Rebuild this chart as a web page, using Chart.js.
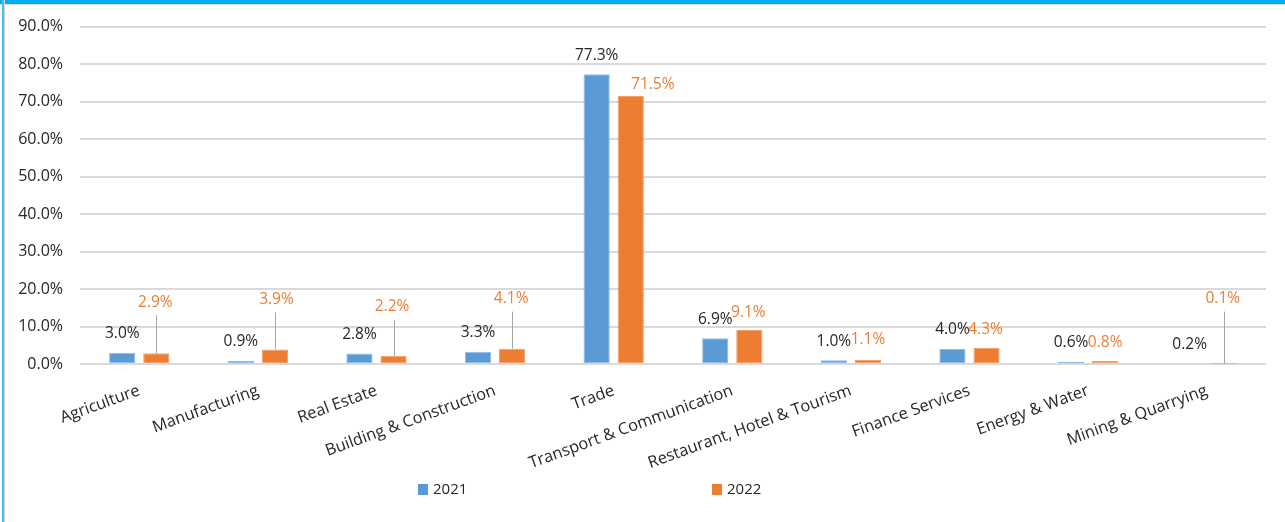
<!DOCTYPE html>
<html>
<head>
<meta charset="utf-8">
<script src="https://cdn.jsdelivr.net/npm/chart.js@4.4.1/dist/chart.umd.min.js"></script>
<style>
  html, body { margin: 0; padding: 0; background: #fff; }
  #wrap { position: relative; width: 1285px; height: 522px; overflow: hidden; }
  #wrap canvas { position: absolute; left: 0; top: 0; }
  .topbar { position: absolute; left: 0; top: 0; width: 1285px; height: 4px; background: #00b0f0; border-bottom: 1px solid #d9d9d9; }
  .leftbar { position: absolute; left: 2px; top: 0; width: 2px; height: 522px; background: #3fc1f2; border-right: 1px solid #d9d9d9; }
</style>
</head>
<body>
<div id="wrap">
  <canvas id="chart" width="1285" height="522"></canvas>
  <div class="topbar"></div>
  <div class="leftbar"></div>
</div>
<script>
const sectors = [
  "Agriculture", "Manufacturing", "Real Estate", "Building & Construction", "Trade",
  "Transport & Communication", "Restaurant, Hotel & Tourism", "Finance Services",
  "Energy & Water", "Mining & Quarrying"
];
const share2021 = [3.0, 0.9, 2.8, 3.3, 77.3, 6.9, 1.0, 4.0, 0.6, 0.2];
const share2022 = [2.9, 3.9, 2.2, 4.1, 71.5, 9.1, 1.1, 4.3, 0.8, 0.1];
const yMin = 0, yMax = 90, yStep = 10;

// label placement (pixels from bar top); leader lines for moved 2022 labels
const offsets2022 = [[-1, -51], [1.5, -50], [-1.5, -49], [-1, -50], [22, -11],
                     [-1, -17], [0, -20], [-1, -18], [0, -18.5], [-1, -65]];
const leaders2022 = [true, true, true, true, false, false, false, false, false, true];

const FONT = '"Open Sans", "Liberation Sans", sans-serif';
const BLUE = "#5b9bd5", ORANGE = "#ed7d31", TEXT = "#262626";

const barLabels = {
  id: "barLabels",
  afterDatasetsDraw(chart) {
    const ctx = chart.ctx;
    ctx.save();
    ctx.font = "15.5px " + FONT;
    ctx.textAlign = "center";
    ctx.textBaseline = "middle";
    chart.data.datasets.forEach((ds, di) => {
      chart.getDatasetMeta(di).data.forEach((bar, i) => {
        const [dx, dy] = ds.labelOffsets ? ds.labelOffsets[i] : [0, -19];
        const lx = bar.x + dx, ly = bar.y + dy;
        if (ds.leaders && ds.leaders[i]) {
          const x = Math.round(bar.x) + 0.5;
          ctx.strokeStyle = "#a6a6a6";
          ctx.lineWidth = 1;
          ctx.beginPath();
          ctx.moveTo(x, ly + 13);
          ctx.lineTo(x, bar.y);
          ctx.stroke();
        }
        ctx.fillStyle = ds.labelColor;
        ctx.fillText(ds.data[i].toFixed(1) + "%", lx, ly);
      });
    });
    ctx.restore();
  }
};

// legend drawn by hand: Excel spreads the two entries far apart
const legendX = [418, 712];
const bottomLegend = {
  id: "bottomLegend",
  afterDraw(chart) {
    const ctx = chart.ctx;
    ctx.save();
    ctx.font = "15px " + FONT;
    ctx.textBaseline = "middle";
    ctx.textAlign = "left";
    chart.data.datasets.forEach((ds, i) => {
      ctx.fillStyle = ds.backgroundColor;
      ctx.fillRect(legendX[i], 484, 10, 11);
      ctx.fillStyle = TEXT;
      ctx.fillText(ds.label, legendX[i] + 15, 490);
    });
    ctx.restore();
  }
};

new Chart(document.getElementById("chart").getContext("2d"), {
  type: "bar",
  data: {
    labels: sectors,
    datasets: [
      { label: "2021", data: share2021, backgroundColor: BLUE, borderColor: "#8dbbe6",
        borderWidth: 1, borderSkipped: false, labelColor: TEXT },
      { label: "2022", data: share2022, backgroundColor: ORANGE, borderColor: "#f3a06a",
        borderWidth: 1, borderSkipped: false, labelColor: ORANGE,
        labelOffsets: offsets2022, leaders: leaders2022 },
    ],
  },
  options: {
    responsive: false,
    animation: false,
    layout: { padding: { top: 26, right: 19, bottom: 0, left: 0 } },
    datasets: { bar: { barPercentage: 0.77, categoryPercentage: 0.575 } },
    plugins: {
      legend: { display: false },
      tooltip: { enabled: false },
    },
    scales: {
      x: {
        grid: { display: false },
        border: { display: false },
        ticks: {
          minRotation: 20, maxRotation: 20, padding: 9,
          color: TEXT, font: { family: FONT, size: 16.3 },
        },
        afterFit(s) { s.height = 158; },
      },
      y: {
        min: yMin, max: yMax,
        grid: { color: "#d9d9d9", lineWidth: 2, drawTicks: false },
        border: { display: false },
        ticks: {
          stepSize: yStep, padding: 17, color: TEXT,
          font: { family: FONT, size: 16 },
          callback: v => v.toFixed(1) + "%",
        },
        afterFit(s) { s.width = 80; },
      },
    },
  },
  plugins: [barLabels, bottomLegend],
});
</script>
</body>
</html>
